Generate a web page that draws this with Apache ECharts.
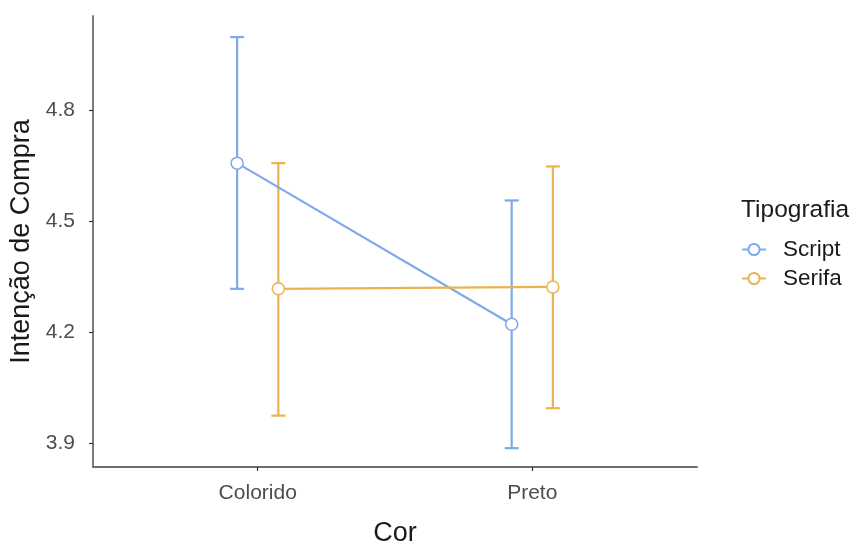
<!DOCTYPE html>
<html>
<head>
<meta charset="utf-8">
<script src="https://cdn.jsdelivr.net/npm/echarts@6/dist/echarts.min.js"></script>
<style>
  html, body { margin: 0; padding: 0; background: #fff; }
  #chart { width: 858px; height: 542px; }
</style>
</head>
<body>
<div id="chart"></div>
<script>
// Categories of the x axis (Cor) and the dodged groups (Tipografia)
const categories = ['Colorido', 'Preto'];
const groups = ['Script', 'Serifa'];
const groupColors = ['#7fa9ee', '#eab34f'];

// Means and error-bar limits per group, one value per category
const scriptMean = [4.657, 4.221];
const scriptLow  = [4.317, 3.886];
const scriptHigh = [4.998, 4.556];

const serifaMean = [4.317, 4.322];
const serifaLow  = [3.974, 3.994];
const serifaHigh = [4.657, 4.648];

// Y tick labels
const yTicks = [3.9, 4.2, 4.5, 4.8];

const dodge = 0.075;
const groupData = [
  { mean: scriptMean, low: scriptLow, high: scriptHigh, offset: -dodge },
  { mean: serifaMean, low: serifaLow, high: serifaHigh, offset: dodge }
];

const FONT = 'Liberation Sans, Arial, sans-serif';
const chart = echarts.init(document.getElementById('chart'));

const series = [];
groupData.forEach((g, gi) => {
  const color = groupColors[gi];
  // error bars: [x, low, high]
  series.push({
    type: 'custom',
    name: groups[gi] + ' erro',
    z: 1,
    silent: true,
    data: categories.map((c, i) => [i + 1 + g.offset, g.low[i], g.high[i]]),
    renderItem: function (params, api) {
      const x = api.value(0);
      const lo = api.coord([x, api.value(1)]);
      const hi = api.coord([x, api.value(2)]);
      const half = 7;
      const style = { stroke: color, lineWidth: 2.2, fill: null };
      return {
        type: 'group',
        children: [
          { type: 'line', shape: { x1: lo[0], y1: lo[1], x2: hi[0], y2: hi[1] }, style: style },
          { type: 'line', shape: { x1: lo[0] - half, y1: lo[1], x2: lo[0] + half, y2: lo[1] }, style: style },
          { type: 'line', shape: { x1: hi[0] - half, y1: hi[1], x2: hi[0] + half, y2: hi[1] }, style: style }
        ]
      };
    }
  });
  // connecting line and points
  series.push({
    type: 'line',
    name: groups[gi],
    z: 3,
    data: categories.map((c, i) => [i + 1 + g.offset, g.mean[i]]),
    symbol: 'circle',
    symbolSize: 12,
    showAllSymbol: true,
    lineStyle: { color: color, width: 2.2 },
    itemStyle: { color: '#ffffff', borderColor: color, borderWidth: 1.5 },
    emphasis: { disabled: true }
  });
});

chart.setOption({
  animation: false,
  backgroundColor: '#ffffff',
  grid: { left: 93, right: 161, top: 16, bottom: 75, containLabel: false, outerBoundsMode: 'none' },
  xAxis: {
    type: 'value',
    min: 0.4,
    max: 2.6,
    name: 'Cor',
    nameLocation: 'middle',
    nameGap: 53,
    nameTextStyle: { fontFamily: FONT, fontSize: 27, color: '#1a1a1a' },
    axisLine: { show: true, lineStyle: { color: '#6e6e6e', width: 1.8 } },
    axisTick: { show: true, length: 4, customValues: [1, 2], lineStyle: { color: '#333', width: 1.2 } },
    axisLabel: {
      customValues: [1, 2],
      margin: 16,
      fontFamily: FONT, fontSize: 21, color: '#4d4d4d',
      formatter: v => categories[Math.round(v) - 1] || ''
    },
    splitLine: { show: false }
  },
  yAxis: {
    type: 'value',
    min: 3.835,
    max: 5.055,
    name: 'Intenção de Compra',
    nameLocation: 'middle',
    nameGap: 58,
    nameRotate: 90,
    nameTextStyle: { fontFamily: FONT, fontSize: 27, color: '#1a1a1a' },
    axisLine: { show: true, lineStyle: { color: '#6e6e6e', width: 1.8 } },
    axisTick: { show: true, length: 4, customValues: yTicks, lineStyle: { color: '#333', width: 1.2 } },
    axisLabel: {
      customValues: yTicks,
      margin: 18,
      fontFamily: FONT, fontSize: 21, color: '#4d4d4d',
      formatter: v => v.toFixed(1)
    },
    splitLine: { show: false }
  },
  legend: {
    data: groups,
    orient: 'vertical',
    left: 736,
    top: 233,
    itemWidth: 24,
    itemHeight: 14,
    itemGap: 6,
    textStyle: { fontFamily: FONT, fontSize: 22.5, color: '#1a1a1a', padding: [0, 0, 0, 12] },
    selectedMode: false
  },
  graphic: [{
    type: 'text',
    left: 741,
    top: 198,
    style: { text: 'Tipografia', fontFamily: FONT, fontSize: 24.5, fill: '#1a1a1a' }
  }],
  series: series
});
</script>
</body>
</html>
